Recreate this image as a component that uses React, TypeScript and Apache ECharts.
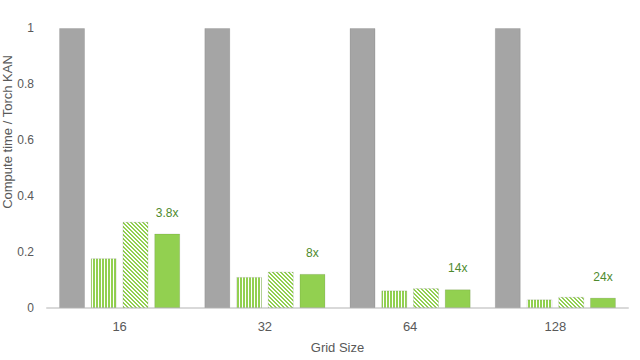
import React, { useEffect, useRef } from "react";
import * as echarts from "echarts";

const categories = ["16", "32", "64", "128"];
const torchKan = [1, 1, 1, 1];
const variantA = [0.178, 0.111, 0.063, 0.031];
const variantB = [0.308, 0.13, 0.071, 0.04];
const variantC = [0.266, 0.122, 0.067, 0.037];
const speedups = ["3.8x", "8x", "14x", "24x"];
const yTicks = [0, 0.2, 0.4, 0.6, 0.8, 1];

const GREEN = "#92d050";
const GRAY = "#a5a5a5";

function makePattern(kind: "v" | "d"): string {
  const size = kind === "v" ? 3 : 4;
  const c = document.createElement("canvas");
  c.width = size;
  c.height = size;
  const ctx = c.getContext("2d")!;
  ctx.fillStyle = "#ffffff";
  ctx.fillRect(0, 0, size, size);
  ctx.fillStyle = GREEN;
  for (let y = 0; y < size; y++) {
    for (let x = 0; x < size; x++) {
      let on = false;
      if (kind === "v") on = x < 2;
      else on = ((x - y) % 4 + 4) % 4 < 2;
      if (on) ctx.fillRect(x, y, 1, 1);
    }
  }
  return c.toDataURL();
}

export default function App() {
  const ref = useRef<HTMLDivElement>(null);
  useEffect(() => {
    if (!ref.current) return;
    const chart = echarts.init(ref.current, undefined, { renderer: "svg" });
    const vPat = makePattern("v");
    const dPat = makePattern("d");
    const font = "Liberation Sans, Arial, sans-serif";
    const border = { borderColor: "rgba(0,0,0,0.10)", borderWidth: 1 };
    chart.setOption({
      animation: false,
      textStyle: { fontFamily: font },
      grid: {
        left: 47,
        right: 12,
        top: 28,
        bottom: 52,
        containLabel: false,
        outerBoundsMode: "none",
      },
      graphic: [
        {
          type: "text",
          x: 7,
          y: 132,
          rotation: Math.PI / 2,
          style: {
            text: "Compute time / Torch KAN",
            fill: "#595959",
            font: `13px ${font}`,
            textAlign: "center",
            textVerticalAlign: "middle",
          },
        },
      ],
      xAxis: {
        type: "category",
        data: categories,
        name: "Grid Size",
        nameLocation: "middle",
        nameGap: 33,
        nameTextStyle: { color: "#595959", fontSize: 13, fontFamily: font },
        axisLine: { lineStyle: { color: "#d9d9d9", width: 2 } },
        axisTick: { show: false },
        axisLabel: { color: "#595959", fontSize: 13, margin: 12 },
      },
      yAxis: {
        type: "value",
        min: yTicks[0],
        max: yTicks[yTicks.length - 1],
        interval: 0.2,
        axisLine: { show: false },
        axisTick: { show: false },
        splitLine: { show: false },
        axisLabel: { color: "#595959", fontSize: 12, margin: 13 },
      },
      series: [
        {
          type: "bar",
          data: torchKan,
          barWidth: 26,
          barGap: "22%",
          itemStyle: { color: GRAY, ...border },
        },
        {
          type: "bar",
          data: variantA,
          barWidth: 26,
          barGap: "22%",
          itemStyle: { color: { image: vPat, repeat: "repeat" }, ...border },
        },
        {
          type: "bar",
          data: variantB,
          barWidth: 26,
          barGap: "22%",
          itemStyle: { color: { image: dPat, repeat: "repeat" }, ...border },
        },
        {
          type: "bar",
          data: variantC,
          barWidth: 26,
          barGap: "22%",
          itemStyle: { color: GREEN, ...border },
          label: {
            show: true,
            position: "top",
            distance: 15,
            color: "#4e8a2e",
            fontSize: 12,
            formatter: (p: any) => speedups[p.dataIndex],
          },
        },
      ],
    });
    return () => chart.dispose();
  }, []);
  return <div ref={ref} style={{ width: 640, height: 360, position: "absolute", left: 0, top: 0 }} />;
}
